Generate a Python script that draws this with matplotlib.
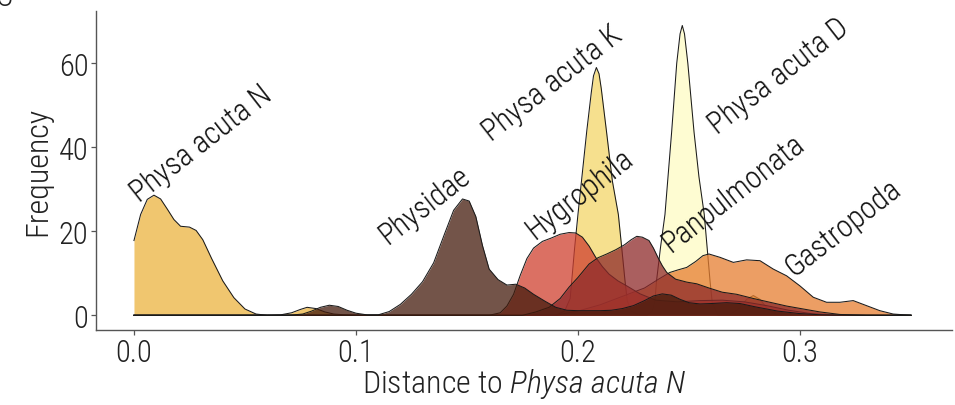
import matplotlib
matplotlib.use("Agg")
import matplotlib.pyplot as plt

# --- data ------------------------------------------------------------------
series = ["Physa acuta N", "Physa acuta K", "Physa acuta D", "Gastropoda",
          "Hygrophila", "Panpulmonata", "Physidae"]

x_n = [0.000, 0.003, 0.006, 0.009, 0.012, 0.015, 0.018, 0.021, 0.025, 0.028, 0.031,
       0.035, 0.040, 0.045, 0.050, 0.055, 0.060, 0.066, 0.071, 0.075, 0.078, 0.082,
       0.086, 0.090, 0.095, 0.100, 0.268, 0.273, 0.276, 0.279, 0.282, 0.285, 0.290, 0.350]
y_n = [17.8, 24.0, 27.6, 28.6, 27.7, 25.3, 22.8, 21.2, 21.0, 20.2, 18.0,
       13.5, 8.2, 4.2, 1.5, 0.3, 0.0, 0.1, 0.6, 1.4, 1.9, 1.6,
       0.8, 0.3, 0.1, 0.0, 0.0, 1.8, 3.8, 4.7, 3.8, 1.8, 0.0, 0.0]

x_k = [0.000, 0.190, 0.194, 0.1965, 0.1975, 0.1985, 0.200, 0.202, 0.204, 0.206, 0.207,
       0.2083, 0.2095, 0.2105, 0.2129, 0.2155, 0.2182, 0.2197, 0.2212, 0.2222, 0.224,
       0.228, 0.350]
y_k = [0, 0, 1.0, 4.0, 10.0, 16.0, 24.0, 34.0, 44.0, 53.0, 57.0,
       59.0, 57.5, 54.0, 43.6, 32.0, 24.0, 16.2, 8.2, 3.5, 1.0,
       0, 0]

x_d = [0.000, 0.231, 0.2335, 0.2347, 0.2354, 0.2372, 0.2392, 0.2422, 0.2445, 0.246,
       0.247, 0.248, 0.2495, 0.2523, 0.2545, 0.2569, 0.2595, 0.2605, 0.263, 0.350]
y_d = [0, 0, 1.0, 3.5, 8.2, 16.2, 24.0, 43.6, 60.0, 67.0,
       69.0, 67.0, 60.0, 43.6, 33.0, 24.0, 8.2, 3.0, 0, 0]

x_g = [0.000, 0.190, 0.200, 0.210, 0.220, 0.230, 0.236, 0.2414, 0.245, 0.249, 0.253,
       0.2563, 0.259, 0.264, 0.270, 0.276, 0.282, 0.288, 0.294, 0.300, 0.306, 0.312,
       0.318, 0.324, 0.330, 0.336, 0.342, 0.350]
y_g = [0, 0, 1.0, 2.5, 4.5, 6.5, 8.5, 10.2, 10.8, 11.4, 12.8,
       14.2, 14.6, 13.8, 12.6, 13.2, 13.0, 11.0, 9.4, 7.0, 4.3, 3.1,
       3.1, 3.5, 2.3, 1.1, 0.3, 0]

x_h = [0.000, 0.160, 0.165, 0.168, 0.171, 0.174, 0.177, 0.180, 0.184, 0.188, 0.192,
       0.196, 0.199, 0.202, 0.205, 0.208, 0.211, 0.214, 0.218, 0.222, 0.228, 0.235,
       0.245, 0.255, 0.265, 0.275, 0.285, 0.295, 0.305, 0.315, 0.350]
y_h = [0, 0, 0.6, 2.2, 5.0, 9.5, 13.5, 16.0, 17.6, 18.4, 19.3,
       19.7, 19.6, 18.6, 16.5, 13.8, 11.6, 9.8, 8.2, 7.0, 5.1, 3.6,
       3.2, 3.5, 3.6, 3.2, 2.3, 1.2, 0.4, 0.0, 0]

x_pp = [0.000, 0.175, 0.181, 0.187, 0.192, 0.196, 0.200, 0.205, 0.209, 0.213, 0.217,
        0.221, 0.224, 0.2265, 0.229, 0.232, 0.234, 0.236, 0.238, 0.240, 0.244, 0.249,
        0.2535, 0.259, 0.265, 0.2715, 0.279, 0.2865, 0.294, 0.3015, 0.309, 0.318, 0.330, 0.350]
y_pp = [0, 0, 0.8, 1.9, 4.0, 6.7, 9.0, 12.2, 13.7, 14.6, 15.6,
        16.8, 18.0, 18.8, 18.6, 17.8, 16.0, 13.8, 11.8, 10.2, 8.6, 7.9,
        7.5, 6.5, 5.5, 5.0, 4.0, 3.1, 2.2, 1.5, 0.8, 0.2, 0, 0]

x_p = [0.000, 0.070, 0.076, 0.080, 0.084, 0.088, 0.092, 0.096, 0.100, 0.105, 0.110,
       0.115, 0.120, 0.125, 0.130, 0.135, 0.140, 0.144, 0.148, 0.151, 0.154, 0.157,
       0.160, 0.164, 0.168, 0.172, 0.176, 0.180, 0.185, 0.190, 0.195, 0.200, 0.210,
       0.215, 0.220, 0.225, 0.230, 0.234, 0.238, 0.242, 0.246, 0.250, 0.255, 0.260,
       0.267, 0.273, 0.280, 0.290, 0.300, 0.310, 0.350]
y_p = [0, 0, 0.3, 1.0, 1.9, 2.4, 2.1, 1.2, 0.5, 0.1, 0.1,
       0.9, 2.6, 5.0, 8.0, 12.5, 19.5, 25.0, 27.7, 27.2, 23.5, 16.6,
       11.0, 8.5, 7.2, 7.4, 6.5, 5.0, 3.4, 1.9, 1.2, 1.1, 1.1,
       1.2, 1.6, 2.3, 3.5, 4.6, 5.1, 4.8, 3.8, 3.0, 2.7, 2.8,
       3.0, 2.8, 2.0, 1.0, 0.4, 0.1, 0]

xs = [x_n, x_k, x_d, x_g, x_h, x_pp, x_p]
ys = [y_n, y_k, y_d, y_g, y_h, y_pp, y_p]

colors = ["#ECB33F", "#F3D668", "#FEFCC4", "#E67E30", "#D0402F", "#8E2A2A", "#441B0C"]

# label text -> lower-left anchor (data units)
label_pos = {
    "Physa acuta N": (0.0025, 27.0),
    "Physidae": (0.1145, 16.8),
    "Physa acuta K": (0.1610, 41.4),
    "Hygrophila": (0.1805, 18.0),
    "Physa acuta D": (0.2627, 43.0),
    "Panpulmonata": (0.2420, 14.9),
    "Gastropoda": (0.2975, 9.2),
}

fam = "Roboto Condensed"
plt.rcParams["font.family"] = [fam, "DejaVu Sans"]
plt.rcParams["font.weight"] = 300
plt.rcParams["mathtext.fontset"] = "custom"
plt.rcParams["mathtext.rm"] = fam + ":light"
plt.rcParams["mathtext.it"] = fam + ":italic:light"

W, H = 955, 406
fig = plt.figure(figsize=(W / 100, H / 100), dpi=100)
ax = fig.add_axes([96 / W, 75 / H, (952 - 96) / W, (331 - 12) / H])

for i, name in enumerate(series):
    ax.fill_between(xs[i], ys[i], 0, color=colors[i], alpha=0.75, lw=0, zorder=2 + 2 * i)
    ax.plot(xs[i], ys[i], color="#1a1a1a", lw=0.75, zorder=3 + 2 * i)

for name, (lx, ly) in label_pos.items():
    ax.text(lx, ly, name, rotation=38, rotation_mode="anchor", ha="left", va="baseline",
            fontsize=22, fontweight="light", color="#111111", zorder=30)

ax.set_xlim(-0.0171, 0.3685)
ax.set_ylim(-3.5, 72.45)
ax.set_xticks([0.0, 0.1, 0.2, 0.3])
ax.set_xticklabels(["0.0", "0.1", "0.2", "0.3"])
ax.set_yticks([0, 20, 40, 60])
for s in ["top", "right"]:
    ax.spines[s].set_visible(False)
for s in ["left", "bottom"]:
    ax.spines[s].set_color("#555555")
    ax.spines[s].set_linewidth(1.0)
ax.tick_params(axis="both", colors="#555555", length=3.5, width=0.9, labelsize=22,
               labelcolor="#222222")
ax.tick_params(axis="x", pad=2)
ax.tick_params(axis="y", pad=2)

fig.text(524 / W, 13 / H, r"Distance to $\it{Physa\ acuta\ N}$", ha="center", va="baseline",
         fontsize=23, color="#222222")
fig.text(38 / W, (H - 171) / H, "Frequency", rotation=90, ha="center", va="center",
         fontsize=23, color="#222222")
fig.text(-0.004, 400 / H, "C", ha="left", va="baseline", fontsize=22, color="#222222")

fig.savefig("out.png", dpi=100)
